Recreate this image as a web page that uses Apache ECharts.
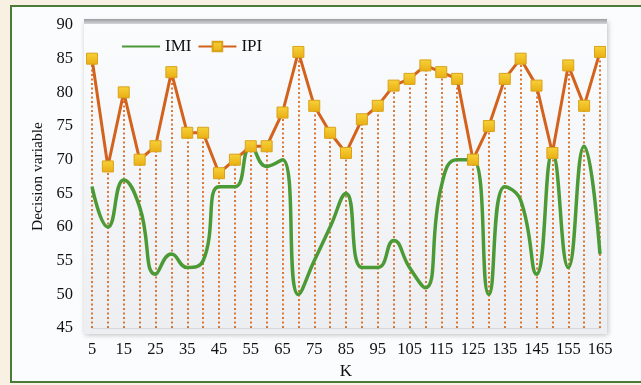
<!DOCTYPE html>
<html>
<head>
<meta charset="utf-8">
<script src="https://cdn.jsdelivr.net/npm/echarts@6/dist/echarts.min.js"></script>
<style>
  html, body { margin: 0; padding: 0; background: #f8f0e2; }
  #chart { width: 641px; height: 385px; }
</style>
</head>
<body>
<div id="chart"></div>
<script>
// K values along the horizontal axis
const kValues = [5, 10, 15, 20, 25, 30, 35, 40, 45, 50, 55, 60, 65, 70, 75, 80, 85,
                 90, 95, 100, 105, 110, 115, 120, 125, 130, 135, 140, 145, 150, 155, 160, 165];

// Decision variable for each method
const imiValues = [66, 60, 67, 63, 53, 56, 54, 55, 66, 66, 72, 69, 70, 50, 55, 60, 65,
                   54, 54, 58, 54, 51, 66, 70, 70, 50, 66, 64, 53, 71, 54, 72, 56];
const ipiValues = [85, 69, 80, 70, 72, 83, 74, 74, 68, 70, 72, 72, 77, 86, 78, 74, 71,
                   76, 78, 81, 82, 84, 83, 82, 70, 75, 82, 85, 81, 71, 84, 78, 86];

// Value-axis range and step
const yMin = 45, yMax = 90, yStep = 5;

const chart = echarts.init(document.getElementById('chart'));

// Drop lines from every IPI point down to the axis floor
const dropLines = ipiValues.map((v, i) => [
  { coord: [i, yMin] },
  { coord: [i, v] }
]);

const serif = '"Liberation Serif", "DejaVu Serif", serif';

chart.setOption({
  animation: false,
  backgroundColor: '#f8f0e2',
  graphic: [
    { type: 'rect', z: -10, shape: { x: 11, y: 6, width: 640, height: 376 },
      style: { fill: '#fbfcfd', stroke: '#4b7a36', lineWidth: 2 } },
    { type: 'rect', z: -9, shape: { x: 84, y: 21, width: 523, height: 313 },
      style: {
        fill: new echarts.graphic.LinearGradient(0, 0, 0, 1, [
          { offset: 0, color: '#fbfcfe' },
          { offset: 1, color: '#eceef1' }
        ]),
        shadowColor: 'rgba(0,0,0,0.25)', shadowBlur: 5, shadowOffsetX: 1, shadowOffsetY: 1
      } },
    { type: 'rect', z: -8, shape: { x: 84, y: 19, width: 523, height: 5 },
      style: {
        fill: new echarts.graphic.LinearGradient(0, 0, 0, 1, [
          { offset: 0, color: '#9a9c9f' },
          { offset: 1, color: '#d4d6d9' }
        ])
      } }
  ],
  grid: { left: 92, right: 41, top: 25, bottom: 51 },
  legend: {
    left: 116, top: 33,
    itemWidth: 38, itemHeight: 12, itemGap: 6,
    textStyle: { fontFamily: serif, fontSize: 17, color: '#111' },
    data: [
      { name: 'IMI', itemStyle: { opacity: 0 } },
      { name: 'IPI' }
    ]
  },
  xAxis: {
    type: 'category',
    data: kValues,
    boundaryGap: false,
    name: 'K',
    nameLocation: 'middle',
    nameGap: 31,
    nameTextStyle: { fontFamily: serif, fontSize: 17, color: '#111' },
    axisLine: { lineStyle: { color: '#d6d8db', width: 1 } },
    axisTick: { show: false },
    axisLabel: { interval: 1, margin: 13, fontFamily: serif, fontSize: 16.5, color: '#111' },
    splitLine: { show: false }
  },
  yAxis: {
    type: 'value',
    min: yMin, max: yMax, interval: yStep,
    name: 'Decision variable',
    nameLocation: 'middle',
    nameGap: 46,
    nameTextStyle: { fontFamily: serif, fontSize: 15.5, color: '#111' },
    axisLine: { show: false },
    axisTick: { show: false },
    axisLabel: { margin: 19, fontFamily: serif, fontSize: 16.5, color: '#111' },
    splitLine: { show: false }
  },
  series: [
    {
      name: 'IMI',
      type: 'line',
      data: imiValues,
      z: 3,
      smooth: 0.5,
      showSymbol: false,
      symbol: 'none',
      itemStyle: { color: '#4c9a36' },
      lineStyle: { color: '#4c9a36', width: 3.5 }
    },
    {
      name: 'IPI',
      type: 'line',
      data: ipiValues,
      z: 4,
      symbol: 'rect',
      symbolSize: 11,
      showAllSymbol: true,
      itemStyle: {
        color: new echarts.graphic.LinearGradient(0, 0, 0, 1, [
          { offset: 0, color: '#f7d23a' },
          { offset: 1, color: '#e9ae12' }
        ]),
        borderColor: '#d9a21a', borderWidth: 1
      },
      lineStyle: { color: '#d3621d', width: 3 },
      markLine: {
        silent: true,
        symbol: 'none',
        label: { show: false },
        lineStyle: { color: '#d66a24', width: 2, type: [2, 2.5], opacity: 0.9 },
        data: dropLines,
        z: 1
      }
    }
  ]
});
</script>
</body>
</html>
